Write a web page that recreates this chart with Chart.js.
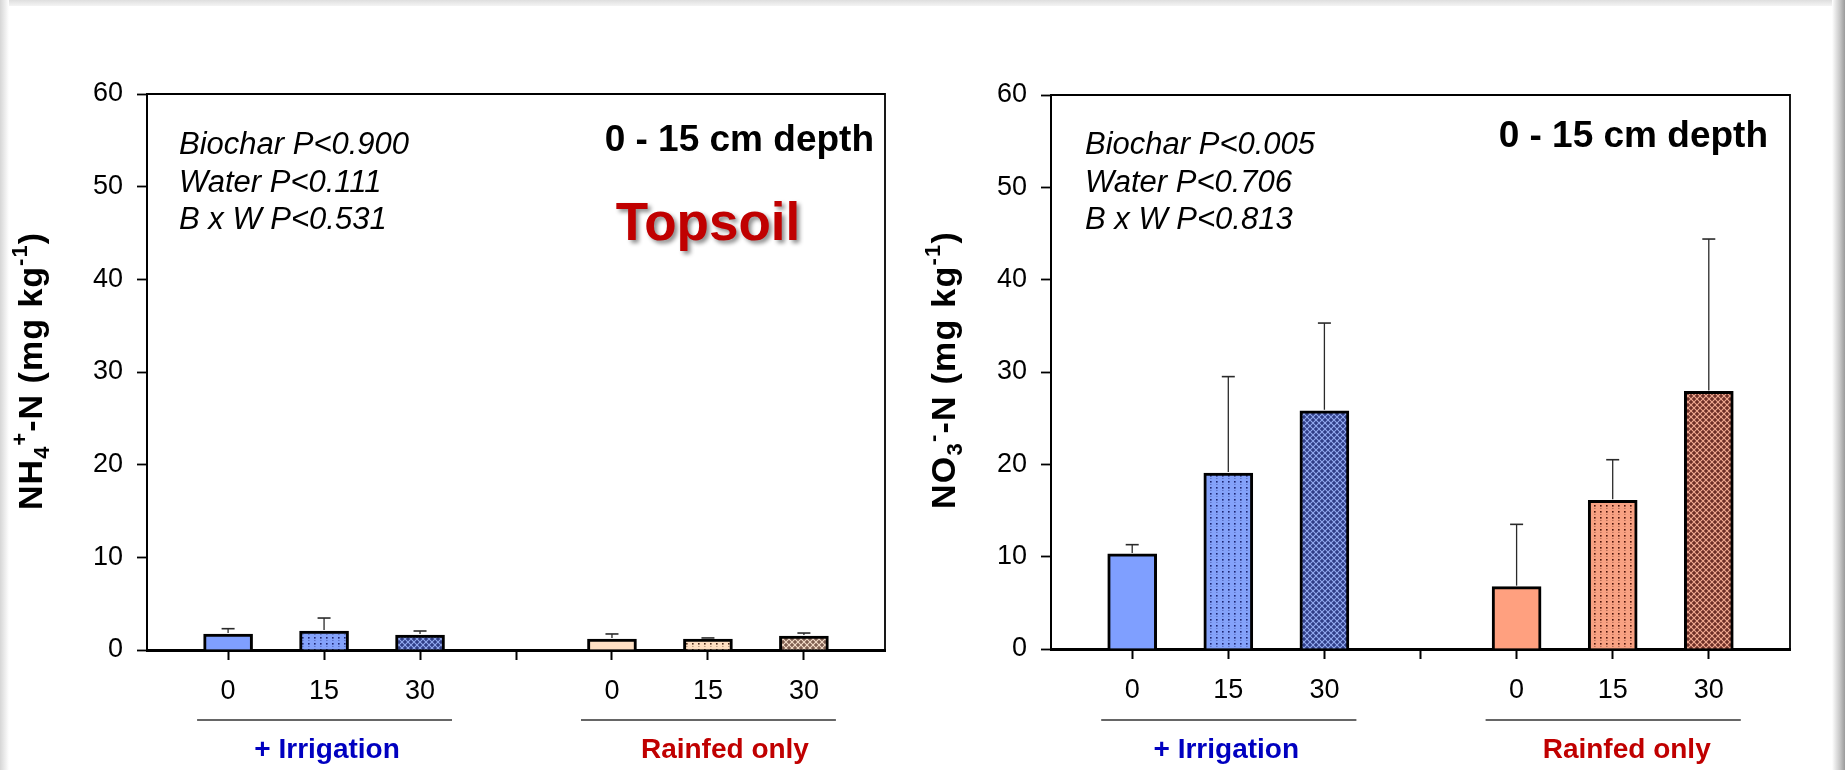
<!DOCTYPE html>
<html><head><meta charset="utf-8">
<script src="https://cdn.jsdelivr.net/npm/chart.js@4.4.0/dist/chart.umd.min.js"></script>
<style>
html,body{margin:0;padding:0;background:#fff;}
body{width:1845px;height:770px;position:relative;overflow:hidden;font-family:"Liberation Sans",Arial,sans-serif;}
#c1{position:absolute;left:0;top:0;}
#c2{position:absolute;left:920px;top:0;}
.topband{position:absolute;left:0;top:0;width:1845px;height:6px;background:linear-gradient(#dedede,#f4f4f4);}
.leftband{position:absolute;left:0;top:0;width:9px;height:770px;background:linear-gradient(90deg,#d6d6d6,#ffffff);}
.rightband{position:absolute;left:1832px;top:0;width:13px;height:770px;background:linear-gradient(90deg,#ffffff,#c8c8c8 60%,#9a9a9a);}
</style>
</head><body>
<div class="topband"></div><div class="leftband"></div><div class="rightband"></div>
<canvas id="c1" width="920" height="770"></canvas>
<canvas id="c2" width="925" height="770"></canvas>
<script>
// ---------------- data ----------------
const xTickLabels = ['0', '15', '30', '', '0', '15', '30'];
const groupLabels = ['+ Irrigation', 'Rainfed only'];
const yTickValues = [0, 10, 20, 30, 40, 50, 60];
const nh4Mean = [1.73, 2.05, 1.62, null, 1.19, 1.19, 1.51];
const nh4SE   = [0.57, 1.40, 0.43, null, 0.54, 0.11, 0.32];
const no3Mean = [10.3, 19.05, 25.8, null, 6.75, 16.1, 27.9];
const no3SE   = [1.0, 10.45, 9.5, null, 6.75, 4.4, 16.5];
const nh4Stats = ['Biochar P<0.900', 'Water P<0.111', 'B x W P<0.531'];
const no3Stats = ['Biochar P<0.005', 'Water P<0.706', 'B x W P<0.813'];
const depthLabel = '0 - 15 cm depth';
const soilLabel = 'Topsoil';

// ---------------- patterns ----------------
function dotPattern(base, dot) {
  const c = document.createElement('canvas'); c.width = 6; c.height = 6;
  const g = c.getContext('2d');
  g.fillStyle = base; g.fillRect(0, 0, 6, 6);
  g.fillStyle = dot; g.fillRect(2, 1, 1.6, 1.6);
  g.globalAlpha = 0.35; g.fillRect(2, 4, 1.6, 1);
  return g.createPattern(c, 'repeat');
}
function hatchPattern(bg, light) {
  const c = document.createElement('canvas'); c.width = 6; c.height = 6;
  const g = c.getContext('2d');
  g.fillStyle = bg; g.fillRect(0, 0, 6, 6);
  g.strokeStyle = light; g.lineWidth = 1.1;
  g.beginPath();
  g.moveTo(-1, -1); g.lineTo(7, 7);
  g.moveTo(7, -1); g.lineTo(-1, 7);
  g.stroke();
  return g.createPattern(c, 'repeat');
}
const blueSolid = '#7f9fff';
const blueDots = dotPattern('#84a2fa', '#1c2470');
const blueHatch = hatchPattern('#2f3d86', '#93aaf0');
const peachSolid = '#ffe0c4';
const peachDots = dotPattern('#ffdfc2', '#4a2a18');
const peachHatch = hatchPattern('#7e5e50', '#f4dcc8');
const salmonSolid = '#ffa07f';
const salmonDots = dotPattern('#f8a182', '#4a1208');
const salmonHatch = hatchPattern('#6c2e26', '#f2aa92');

const nh4Fills = [blueSolid, blueDots, blueHatch, null, peachSolid, peachDots, peachHatch];
const no3Fills = [blueSolid, blueDots, blueHatch, null, salmonSolid, salmonDots, salmonHatch];

const FONT = '"Liberation Sans", Arial, sans-serif';

function toPoints(means) {
  const pts = [];
  means.forEach((v, i) => { if (v !== null) pts.push({ x: i, y: v }); });
  return pts;
}
function fillsFor(means, fills) {
  const out = [];
  means.forEach((v, i) => { if (v !== null) out.push(fills[i]); });
  return out;
}

function drawRich(ctx, runs, cx, cy, targetLen) {
  let natural = 0, chars = 0;
  runs.forEach(r => {
    ctx.font = `bold ${r.s}px ${FONT}`;
    r.w = ctx.measureText(r.t).width; natural += r.w; chars += r.t.length;
  });
  const sp = Math.max(0, (targetLen - natural) / chars);
  let total = natural + sp * chars;
  ctx.save();
  ctx.translate(cx, cy); ctx.rotate(-Math.PI / 2);
  ctx.fillStyle = '#000'; ctx.textBaseline = 'alphabetic'; ctx.textAlign = 'left';
  let x = -total / 2;
  runs.forEach(r => {
    ctx.font = `bold ${r.s}px ${FONT}`;
    for (const ch of r.t) {
      ctx.fillText(ch, x, r.dy || 0);
      x += ctx.measureText(ch).width + sp;
    }
  });
  ctx.restore();
}

function makeChart(id, means, ses, fills, cfg) {
  const decor = {
    id: 'decor' + id,
    afterDatasetsDraw(chart) {
      const ctx = chart.ctx, xs = chart.scales.x, ys = chart.scales.y;
      ctx.save();
      ctx.strokeStyle = '#2a2a2a';
      means.forEach((m, i) => {
        if (m === null || ses[i] === null) return;
        const px = xs.getPixelForValue(i);
        const y0 = ys.getPixelForValue(m);
        const y1 = ys.getPixelForValue(m + ses[i]);
        ctx.lineWidth = 1.3;
        ctx.beginPath(); ctx.moveTo(px, y0 - 1); ctx.lineTo(px, y1); ctx.stroke();
        ctx.lineWidth = 1.6;
        ctx.beginPath(); ctx.moveTo(px - 6.5, y1); ctx.lineTo(px + 6.5, y1); ctx.stroke();
      });
      ctx.restore();
    },
    afterDraw(chart) {
      const ctx = chart.ctx, a = chart.chartArea, xs = chart.scales.x;
      ctx.save();
      ctx.strokeStyle = '#000'; ctx.lineWidth = 1.8;
      ctx.beginPath();
      ctx.moveTo(a.left, a.top); ctx.lineTo(a.right, a.top); ctx.lineTo(a.right, a.bottom);
      ctx.stroke();
      ctx.fillStyle = '#000';
      ctx.font = `italic 31px ${FONT}`;
      ctx.textAlign = 'left'; ctx.textBaseline = 'alphabetic';
      cfg.stats.forEach((s, k) => ctx.fillText(s, cfg.statsX, 154 + k * 37.5));
      ctx.font = `bold 37px ${FONT}`;
      ctx.textAlign = 'right';
      ctx.fillText(depthLabel, cfg.depthRight, cfg.depthBase);
      if (cfg.topsoil) {
        ctx.save();
        ctx.font = `bold 53px ${FONT}`;
        ctx.textAlign = 'center';
        ctx.shadowColor = 'rgba(0,0,0,0.45)';
        ctx.shadowOffsetX = 3; ctx.shadowOffsetY = 3; ctx.shadowBlur = 4;
        ctx.fillStyle = '#c00000';
        ctx.fillText(soilLabel, 708, 240);
        ctx.restore();
      }
      ctx.strokeStyle = '#333'; ctx.lineWidth = 1.6;
      [[0, 2], [4, 6]].forEach((g, k) => {
        const l = xs.getPixelForValue(g[0]) - 31, r = xs.getPixelForValue(g[1]) + 32;
        ctx.beginPath(); ctx.moveTo(l, 720); ctx.lineTo(r, 720); ctx.stroke();
        const mid = xs.getPixelForValue(g[0] + 1) + cfg.groupShift[k];
        ctx.font = `bold 28px ${FONT}`;
        ctx.textAlign = 'center';
        ctx.fillStyle = k === 0 ? '#0000c0' : '#c00000';
        ctx.fillText(groupLabels[k], mid, 758);
      });
      ctx.restore();
      drawRich(ctx, cfg.titleRuns, cfg.titleX, cfg.titleY, 278);
    }
  };

  return new Chart(document.getElementById(id), {
    type: 'bar',
    data: {
      datasets: [{
        data: toPoints(means),
        backgroundColor: fillsFor(means, fills),
        borderColor: '#000',
        borderWidth: 3,
        barThickness: 49
      }]
    },
    options: {
      responsive: false,
      devicePixelRatio: 1,
      animation: false,
      events: [],
      layout: { padding: { left: 0, top: cfg.top, right: cfg.padRight, bottom: 0 } },
      plugins: { legend: { display: false }, tooltip: { enabled: false } },
      scales: {
        x: {
          type: 'linear',
          offset: false,
          min: -0.845, max: 6.845,
          afterFit: s => { s.height = 770 - cfg.bottom; },
          afterBuildTicks: s => { s.ticks = xTickLabels.map((_, i) => ({ value: i })); },
          ticks: {
            stepSize: 1, includeBounds: false, autoSkip: false, maxRotation: 0,
            padding: 15, color: '#000',
            font: { family: FONT, size: 27 },
            callback: v => xTickLabels[v] ?? ''
          },
          grid: { offset: false, drawOnChartArea: false, drawTicks: true, tickLength: 10, tickWidth: 2, tickColor: '#000' },
          border: { display: true, color: '#000', width: 3 }
        },
        y: {
          min: 0, max: 60,
          afterFit: s => { s.width = cfg.axisLeft; },
          afterBuildTicks: s => { s.ticks = yTickValues.map(v => ({ value: v })); },
          ticks: { stepSize: 10, padding: 14, color: '#000', font: { family: FONT, size: 27 } },
          grid: { drawOnChartArea: false, drawTicks: true, tickLength: 10, tickWidth: 1.8, tickColor: '#000' },
          border: { display: true, color: '#000', width: 2 }
        }
      }
    },
    plugins: [decor]
  });
}

makeChart('c1', nh4Mean, nh4SE, nh4Fills, {
  stats: nh4Stats, statsX: 179, depthRight: 874, depthBase: 151, topsoil: true,
  top: 94, bottom: 650, axisLeft: 147, padRight: 35,
  groupShift: [3, 17],
  titleX: 42, titleY: 371,
  titleRuns: [
    { t: 'NH', s: 34 }, { t: '4', s: 22, dy: 7 }, { t: '+', s: 22, dy: -15 },
    { t: '-N (mg kg', s: 34 }, { t: '-1', s: 22, dy: -15 }, { t: ')', s: 34 }
  ]
});
makeChart('c2', no3Mean, no3SE, no3Fills, {
  stats: no3Stats, statsX: 165, depthRight: 848, depthBase: 147, topsoil: false,
  top: 95, bottom: 649, axisLeft: 131, padRight: 55,
  groupShift: [-2, 14],
  titleX: 35, titleY: 370,
  titleRuns: [
    { t: 'NO', s: 34 }, { t: '3', s: 22, dy: 7 }, { t: '-', s: 22, dy: -15 },
    { t: '-N (mg kg', s: 34 }, { t: '-1', s: 22, dy: -15 }, { t: ')', s: 34 }
  ]
});
</script>
</body></html>
